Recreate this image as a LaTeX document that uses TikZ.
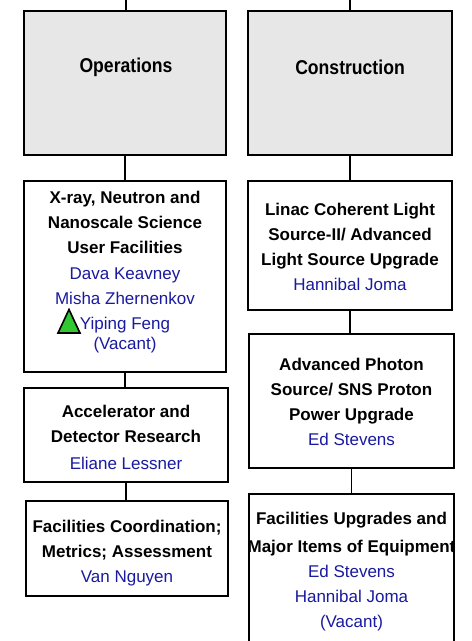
\documentclass[tikz,border=0pt]{standalone}
\usepackage{fontspec}
\setmainfont{Liberation Sans}
\newfontfamily\headfont{Liberation Sans}[FakeStretch=0.88]
\definecolor{namecol}{RGB}{26,26,160}
\definecolor{greyfill}{RGB}{231,231,231}
\definecolor{tri}{RGB}{50,200,50}
\tikzset{
  box/.style={draw=black, line width=2pt, fill=white, inner sep=0pt},
  topbox/.style={box, fill=greyfill},
  conn/.style={draw=black, line width=1.6pt},
  boxtext/.style={font=\fontsize{17}{25}\selectfont\bfseries, align=center, inner sep=0pt},
  headtext/.style={font=\headfont\fontsize{20}{24}\selectfont\bfseries, align=center, inner sep=0pt},
  marker/.style={draw=black, line width=1.6pt, fill=tri, line join=miter},
}
\newcommand{\who}[1]{{\color{namecol}\mdseries #1}}
\begin{document}
\begin{tikzpicture}[x=1pt,y=-1pt]
\useasboundingbox (0,0) rectangle (472,641);
% boxes
\node[topbox, minimum width=202pt, minimum height=144pt] (ops) at (125,83) {};
\node[topbox, minimum width=204pt, minimum height=144pt] (cons) at (350,83) {};
\node[box, minimum width=202pt, minimum height=191pt] (xray) at (125,276.5) {};
\node[box, minimum width=204pt, minimum height=94pt] (acc) at (126,435) {};
\node[box, minimum width=202pt, minimum height=95pt] (fac) at (127,548.5) {};
\node[box, minimum width=204pt, minimum height=129pt] (linac) at (350,245.5) {};
\node[box, minimum width=205pt, minimum height=134pt] (aps) at (351.5,401) {};
\node[box, minimum width=205pt, minimum height=152pt] (fumie) at (351.5,570) {};
% texts
\node[headtext] (opsT) at (126,67) {Operations};
\node[headtext] (consT) at (350,67) {Construction};
\node[boxtext] (xrayT) at (125,272.5)
  {X-ray, Neutron and\\Nanoscale Science\\User Facilities\\[1pt]
   \who{Dava Keavney}\\ \who{Misha Zhernenkov}\\ \who{Yiping Feng}\\[-5pt] \who{(Vacant)}};
\node[boxtext] (accT) at (126,437.5)
  {Accelerator and\\Detector Research\\[2pt] \who{Eliane Lessner}};
\node[boxtext] (facT) at (127,553)
  {Facilities Coordination;\\Metrics; Assessment\\ \who{Van Nguyen}};
\node[boxtext] (linacT) at (350,247)
  {Linac Coherent Light\\Source-II/ Advanced\\Light Source Upgrade\\ \who{Hannibal Joma}};
\node[boxtext] (apsT) at (351.5,401.5)
  {Advanced Photon\\Source/ SNS Proton\\Power Upgrade\\ \who{Ed Stevens}};
\node[boxtext] (fumieT) at (351.5,571.5)
  {Facilities Upgrades and\\[3pt]Major Items of Equipment\\ \who{Ed Stevens}\\ \who{Hannibal Joma}\\ \who{(Vacant)}};
% green marker
\draw[marker] (58,333) -- (69,309.5) -- (80,333) -- cycle;
% connectors
\coordinate (topL) at (126,0);
\coordinate (topR) at (350,0);
\draw[conn] (topL) -- (topL |- ops.north);
\draw[conn] (topR) -- (topR |- cons.north);
\draw[conn] (ops.south) -- (xray.north);
\draw[conn] (xray.south) -- (xray.south |- acc.north);
\draw[conn] (acc.south) -- (acc.south |- fac.north);
\draw[conn] (cons.south) -- (linac.north);
\draw[conn] (linac.south) -- (linac.south |- aps.north);
\draw[conn] (aps.south) -- (aps.south |- fumie.north);
\end{tikzpicture}
\end{document}
